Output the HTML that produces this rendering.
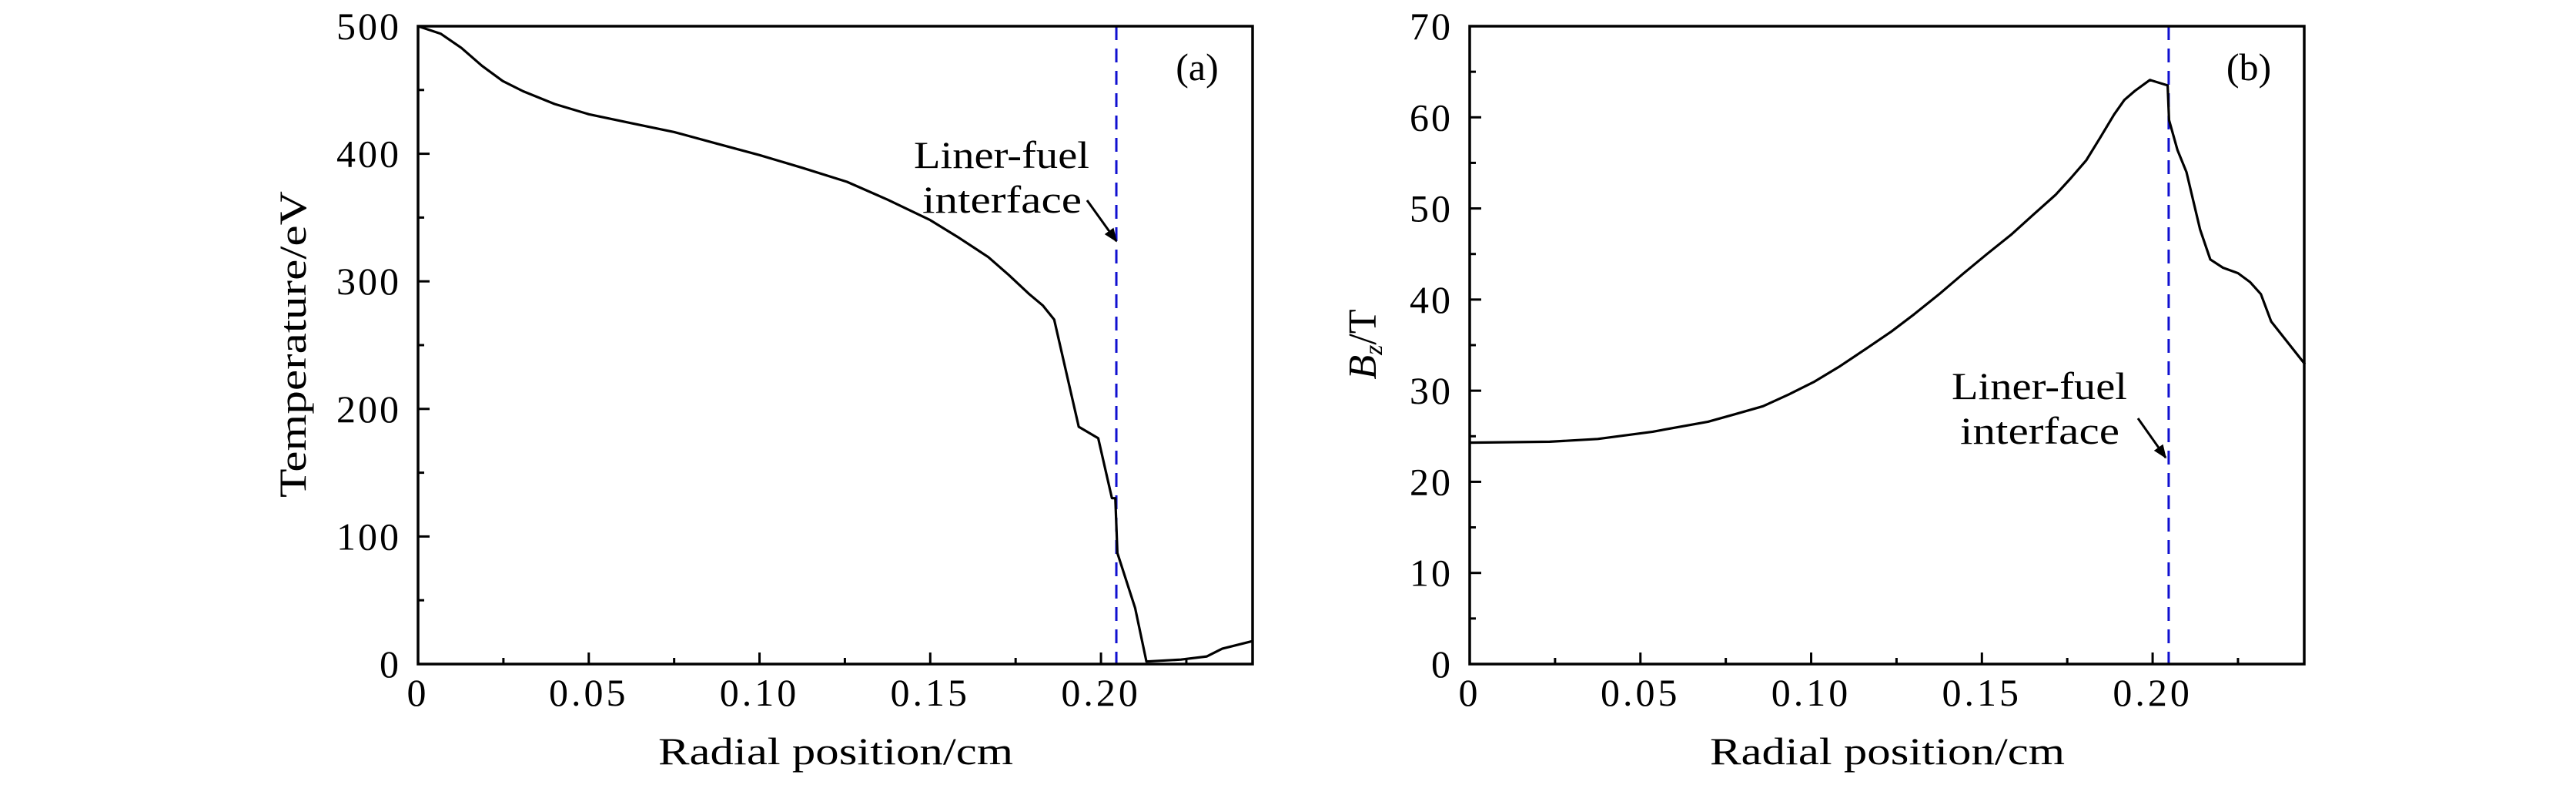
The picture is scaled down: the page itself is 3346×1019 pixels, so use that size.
<!DOCTYPE html>
<html><head><meta charset="utf-8"><style>
html,body{margin:0;padding:0;background:#fff;}
svg text{font-family:"Liberation Serif",serif;fill:#000;}
</style></head><body>
<svg id="chart" width="3346" height="1014" viewBox="0 0 3346 1014" xmlns="http://www.w3.org/2000/svg">
<defs><marker id="ah" viewBox="0 0 10 10" refX="9" refY="5" markerWidth="6" markerHeight="6" orient="auto"><path d="M0,1 L10,5 L0,9 z" fill="#000"/></marker></defs>
</svg>
<script>
const tempX=[0,0.0067,0.0127,0.0187,0.0248,0.0308,0.04,0.05,0.0625,0.075,0.0875,0.1,0.1125,0.1256,0.1375,0.15,0.1585,0.167,0.173,0.179,0.183,0.1863,0.1935,0.1992,0.2032,0.2042,0.2048,0.21,0.2133,0.2234,0.231,0.2355,0.2444];
const tempY=[500,494,483,469,457,449,439,431,424,417,408,399,389,378,364,348,334,319,305,290,281,270,186,177,130,130,87,44,2,3.5,6,12,18];
const bzX=[0,0.0234,0.0375,0.0536,0.0698,0.0775,0.0859,0.0935,0.101,0.1085,0.1161,0.1235,0.1302,0.1375,0.1444,0.1515,0.1585,0.165,0.1716,0.176,0.1806,0.1847,0.1887,0.1917,0.1948,0.1992,0.2044,0.2048,0.2073,0.2099,0.2139,0.2169,0.2206,0.225,0.2286,0.2317,0.2347,0.2446];
const bzY=[24.3,24.4,24.7,25.5,26.6,27.4,28.3,29.6,31.0,32.7,34.6,36.5,38.4,40.6,42.8,45.0,47.1,49.3,51.5,53.3,55.3,57.8,60.3,61.9,62.9,64.1,63.5,59.7,56.4,54.0,47.7,44.4,43.5,42.9,41.9,40.6,37.6,32.9];
const xTicks=[0,0.05,0.10,0.15,0.20];
const xTickLabels=["0","0.05","0.10","0.15","0.20"];
const tempTicks=[0,100,200,300,400,500];
const bzTicks=[0,10,20,30,40,50,60,70];
const interfaceA=0.2045, interfaceB=0.2047;

const NS="http://www.w3.org/2000/svg";
const svg=document.getElementById('chart');
function el(tag,attrs,parent){const e=document.createElementNS(NS,tag);for(const k in attrs)e.setAttribute(k,attrs[k]);(parent||svg).appendChild(e);return e;}

function panel(cfg){
  const L=cfg.left,R=cfg.left+1084,T=34,B=862;
  const xs=v=>L+v/0.2444*(R-L);
  const ys=v=>B-(v-cfg.ymin)/(cfg.ymax-cfg.ymin)*(B-T);
  const g=el('g',{});
  
  
  for(let v=0;v<=0.2444;v+=0.025){
    const major=Math.abs(v/0.05-Math.round(v/0.05))<1e-6;
    const t=el('line',{x1:xs(v),x2:xs(v),y1:B,y2:B-(major?15:8),stroke:'#000','stroke-width':3},g);
    
    
  }
  xTicks.forEach((v,i)=>{
    const t=el('text',{x:xs(v),y:916,'font-size':50,'letter-spacing':4,'text-anchor':'middle'},g);t.textContent=xTickLabels[i];
    
    
  });
  const step=cfg.yTicks[1]-cfg.yTicks[0];
  for(let v=cfg.ymin;v<=cfg.ymax+1e-6;v+=step/2){
    const major=Math.abs((v/step)-Math.round(v/step))<1e-6;
    const t=el('line',{x1:L,x2:L+(major?15:8),y1:ys(v),y2:ys(v),stroke:'#000','stroke-width':3},g);
    
    
  }
  cfg.yTicks.forEach(v=>{
    const t=el('text',{x:L-22,y:ys(v)+17,'font-size':50,'letter-spacing':3,'text-anchor':'end'},g);t.textContent=String(v);
    
    
  });
  const d=el('line',{x1:xs(cfg.iface),x2:xs(cfg.iface),y1:T,y2:B,stroke:'#1010d0','stroke-width':3,'stroke-dasharray':'18 11'},g);
  
  
  const pts=cfg.xs.map((x,i)=>xs(x).toFixed(1)+','+ys(cfg.ys[i]).toFixed(1)).join(' ');
  const p=el('polyline',{points:pts,fill:'none',stroke:'#000','stroke-width':3.2,'stroke-linejoin':'round'},g);
  
  
  const f=el('rect',{x:L,y:T,width:R-L,height:B-T,fill:'none',stroke:'#000','stroke-width':3.5},g);
  
  
  const xt=el('text',{x:(L+R)/2-230,y:992,'font-size':50,textLength:461,lengthAdjust:'spacingAndGlyphs'},g);xt.textContent='Radial position/cm';
  
  
  const pl=el('text',{x:R-72,y:104,'font-size':50,'text-anchor':'middle'},g);pl.textContent=cfg.label;
  
  
  const a1=el('text',{x:cfg.ann[0]-114,y:cfg.ann[1],'font-size':50,textLength:228,lengthAdjust:'spacingAndGlyphs'},g);a1.textContent='Liner-fuel';
  
  
  const a2=el('text',{x:cfg.ann[0]-103,y:cfg.ann[1]+58,'font-size':50,textLength:207,lengthAdjust:'spacingAndGlyphs'},g);a2.textContent='interface';
  
  
  const ar=el('line',{x1:cfg.arrow[0],y1:cfg.arrow[1],x2:cfg.arrow[2],y2:cfg.arrow[3],stroke:'#000','stroke-width':3,'marker-end':'url(#ah)'},g);
  
  
  return g;
}
panel({name:'panel-a-temperature',left:543,ymin:0,ymax:500,yTicks:tempTicks,xs:tempX,ys:tempY,iface:interfaceA,label:'(a)',ann:[1301,218],arrow:[1412,260,1450,313]});
panel({name:'panel-b-bz',left:1909,ymin:0,ymax:70,yTicks:bzTicks,xs:bzX,ys:bzY,iface:interfaceB,label:'(b)',ann:[2649,518],arrow:[2777,543,2813,594]});
const ya=el('text',{x:-199,y:0,'font-size':50,textLength:398,lengthAdjust:'spacingAndGlyphs',transform:'translate(397,447) rotate(-90)'});ya.textContent='Temperature/eV';


const yb=el('text',{x:0,y:0,'font-size':52,'text-anchor':'middle',transform:'translate(1787,447) rotate(-90)'});
yb.innerHTML='<tspan font-style="italic">B</tspan><tspan font-style="italic" font-size="34" dy="8">z</tspan><tspan dy="-8">/T</tspan>';


</script>
</body></html>
